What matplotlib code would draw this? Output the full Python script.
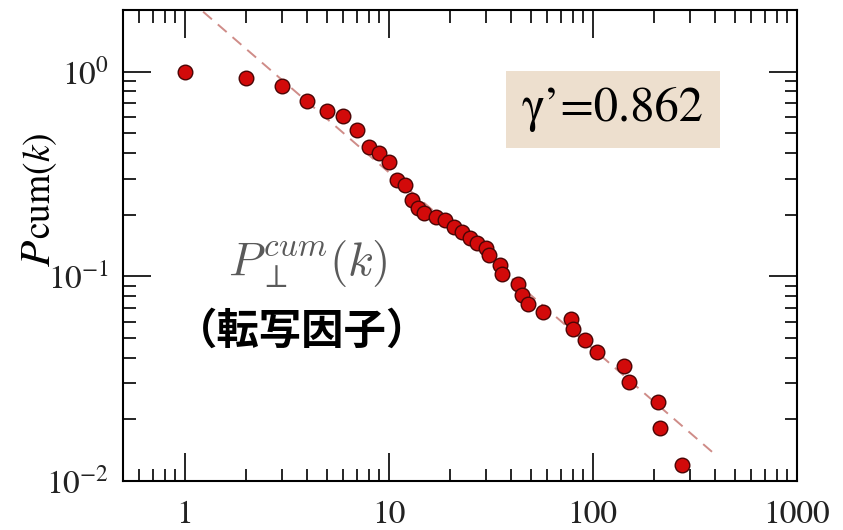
import numpy as np
import matplotlib
matplotlib.use("Agg")
import matplotlib.pyplot as plt
from matplotlib.ticker import LogLocator, NullFormatter

# =========================================================
# DATOS
# =========================================================
k = [1, 2, 3, 4, 5, 6, 7, 8, 9, 10, 11, 12, 13, 14, 15,
     17, 19, 21, 23, 25, 27, 30, 31, 35, 36, 43, 45, 48, 57,
     78, 80, 92, 105, 142, 150, 210, 214, 273]
p_cum = [1.0, 0.93, 0.85, 0.72, 0.64, 0.61, 0.52, 0.43, 0.40, 0.36,
         0.296, 0.28, 0.236, 0.215, 0.203,
         0.195, 0.188, 0.174, 0.165, 0.153, 0.145, 0.137, 0.127, 0.113,
         0.103, 0.092, 0.081, 0.0735, 0.0668,
         0.062, 0.0554, 0.049, 0.0426, 0.0366, 0.0303, 0.0242, 0.0181, 0.0120]

# recta de ajuste
gamma = 0.862
c_fit = 2.35
k_fit = np.array([1.0, 400.0])

xticks = [1, 10, 100, 1000]
xticklabels = ["1", "10", "100", "1000"]
yticks = [1e-2, 1e-1, 1]
yticklabels = [r"$10^{-2}$", r"$10^{-1}$", r"$10^{0}$"]

# =========================================================
# ESTILO
# =========================================================
plt.rcParams["font.family"] = ["STIXGeneral", "Liberation Serif", "DejaVu Serif"]
plt.rcParams["mathtext.fontset"] = "stix"

fig = plt.figure(figsize=(8.43, 5.30), dpi=100)
ax = fig.add_axes([0.146, 0.0925, 0.799, 0.8887])

# =========================================================
# GRAFICAR
# =========================================================
ax.plot(k_fit, c_fit * k_fit ** (-gamma), color="#cf8c88", lw=1.4,
        dashes=(6, 4), zorder=2)
ax.plot(k, p_cum, "o", ms=10.5, mfc="#d20a0a", mec="#4a0505", mew=1.0,
        zorder=3)

ax.set_xscale("log")
ax.set_yscale("log")
ax.set_xlim(0.5, 1000)
ax.set_ylim(0.01, 2.0)

ax.set_xticks(xticks)
ax.set_xticklabels(xticklabels)
ax.set_yticks(yticks)
ax.set_yticklabels(yticklabels)
ax.xaxis.set_minor_locator(LogLocator(base=10, subs=np.arange(2, 10)))
ax.yaxis.set_minor_locator(LogLocator(base=10, subs=np.arange(2, 10)))
ax.xaxis.set_minor_formatter(NullFormatter())
ax.yaxis.set_minor_formatter(NullFormatter())

ax.tick_params(which="both", direction="in", top=True, right=True,
               labelsize=24, width=1.2, colors="black")
ax.tick_params(which="major", length=20)
ax.tick_params(which="minor", length=9)
ax.tick_params(axis="x", which="major", pad=14, labelcolor="#222222")
ax.tick_params(axis="y", which="major", pad=10, labelcolor="#222222")
for sp in ax.spines.values():
    sp.set_linewidth(1.5)

# Etiqueta eje Y: "P" grande + "cum(k)"
fig.text(50 / 843, 1 - 267 / 530, r"$P$", fontsize=31, rotation=90,
         rotation_mode="anchor", ha="left", va="baseline")
fig.text(50 / 843, 1 - 239 / 530, r"$\mathrm{cum}(k)$", fontsize=27,
         rotation=90, rotation_mode="anchor", ha="left", va="baseline")

# Anotaciones
ax.text(0.274, 0.46, r"$P_{\perp}^{cum}(k)$", transform=ax.transAxes,
        fontsize=34, color="#5a5a5a", ha="center", va="center",
        math_fontfamily="cm")
ax.text(0.265, 0.316, "（転写因子）", transform=ax.transAxes,
        fontsize=30.5, fontweight="bold", color="black", ha="center",
        va="center", family=["Noto Sans CJK JP", "DejaVu Sans"])
ax.text(0.727, 0.788, "γ’=0.862", transform=ax.transAxes, fontsize=35,
        ha="center", va="center", color="black",
        family=["STIXGeneral", "Liberation Serif"],
        bbox=dict(boxstyle="square,pad=0.33", fc="#eddfce", ec="none"))

plt.savefig("out.png", dpi=100)
